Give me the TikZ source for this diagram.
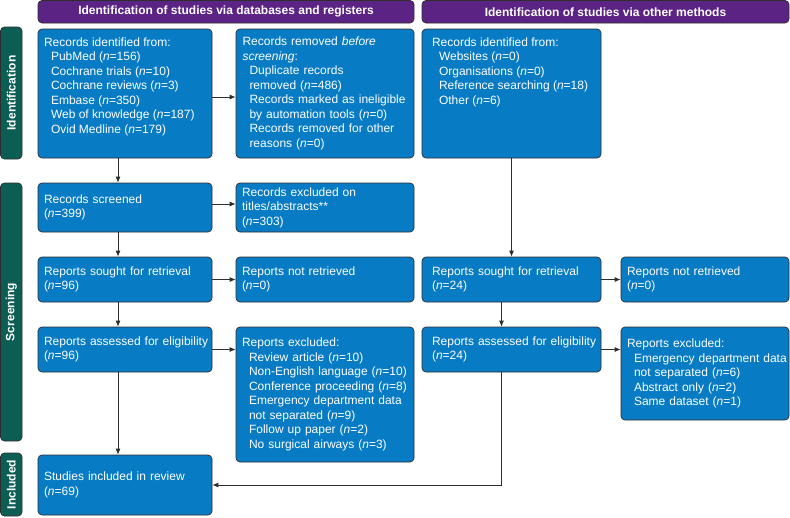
\documentclass[tikz,border=0pt]{standalone}
\usepackage{fontspec}
\setmainfont{Liberation Sans}
\usetikzlibrary{arrows.meta}
\definecolor{pblue}{HTML}{077BC4}
\definecolor{ppurple}{HTML}{5B2383}
\definecolor{pteal}{HTML}{0C5E55}
\definecolor{pline}{HTML}{2E2E2E}
\newcommand{\ind}{\hspace*{7pt}}
\newcommand{\nn}{\textit{n}}
\tikzset{
  boxbase/.style={draw=pline, line width=0.7pt, fill=pblue, rounded corners=4pt,
    text=white, inner ysep=0pt, font=\fontsize{12}{14.5}\selectfont},
  box/.style={boxbase, align=left, inner xsep=6pt},
  hdr/.style={draw=pline, line width=0.7pt, fill=ppurple, rounded corners=4pt,
    text=white, inner sep=0pt, font=\fontsize{12}{14.5}\selectfont\bfseries},
  bar/.style={draw=pline, line width=0.7pt, fill=pteal, rounded corners=4pt,
    text=white, inner sep=0pt, rotate=90, font=\fontsize{12}{14.5}\selectfont\bfseries},
  arr/.style={draw=pline, line width=0.8pt, -{Latex[length=6pt,width=5pt]}}
}
\begin{document}
\begin{tikzpicture}[x=1pt,y=-1pt]
\useasboundingbox (0,0) rectangle (790,517);
% headers
\node[hdr, minimum width=376, minimum height=22.5] (h1) at (226,11.75) {Identification of studies via databases and registers};
\node[hdr, minimum width=367, minimum height=22.5] (h2) at (605.5,11.75) {Identification of studies via other methods};
% side bars
\node[bar, minimum width=132, minimum height=21.5] (barI) at (11.25,93) {Identification};
\node[bar, minimum width=258, minimum height=21.5] (barS) at (11.25,312) {Screening};
\node[bar, minimum width=63, minimum height=21.5] (barN) at (11.25,484.5) {Included};
% left column
\node[boxbase, inner xsep=6pt, minimum width=174, minimum height=129] (A) at (125,93.5)
 {\parbox[c][129pt][t]{162pt}{\raggedright\vspace*{7.3pt}\strut Records identified from:\\
 \ind PubMed (\nn=156)\\ \ind Cochrane trials (\nn=10)\\ \ind Cochrane reviews (\nn=3)\\
 \ind Embase (\nn=350)\\ \ind Web of knowledge (\nn=187)\\ \ind Ovid Medline (\nn=179)}};
\node[box, minimum width=178, minimum height=129, text width=165] (B) at (325,93.5)
 {Records removed \textit{before}\\ \textit{screening}:\\ \ind Duplicate records\\ \ind removed (\nn=486)\\
 \ind Records marked as ineligible\\ \ind by automation tools (\nn=0)\\ \ind Records removed for other\\ \ind reasons (\nn=0)};
\node[boxbase, inner xsep=10pt, minimum width=179, minimum height=129] (C) at (511.5,93.5)
 {\parbox[c][129pt][t]{159pt}{\raggedright\vspace*{7.3pt}\strut Records identified from:\\
 \ind Websites (\nn=0)\\ \ind Organisations (\nn=0)\\ \ind Reference searching (\nn=18)\\ \ind Other (\nn=6)}};
\node[box, minimum width=174, minimum height=49, text width=162] (scr) at (125,207.5)
 {Records screened\\(\nn=399)};
\node[box, minimum width=178, minimum height=49, text width=166] (exc1) at (325,207.5)
 {Records excluded on\\titles/abstracts**\\(\nn=303)};
\node[box, minimum width=174, minimum height=45, text width=162] (sought1) at (125,279.5)
 {Reports sought for retrieval\\(\nn=96)};
\node[box, minimum width=178, minimum height=45, text width=166] (nr1) at (325,279.5)
 {Reports not retrieved\\(\nn=0)};
\node[box, minimum width=179, minimum height=45, text width=159, inner xsep=10pt] (sought2) at (511.5,279.5)
 {Reports sought for retrieval\\(\nn=24)};
\node[box, minimum width=168, minimum height=45, text width=156] (nr2) at (705,279.5)
 {Reports not retrieved\\(\nn=0)};
\node[box, minimum width=174, minimum height=45, text width=162] (ass1) at (125,349.5)
 {\mbox{Reports assessed for eligibility}\\(\nn=96)};
\node[box, minimum width=178, minimum height=135, text width=166] (ex1) at (325,394.5)
 {Reports excluded:\\ \ind Review article (\nn=10)\\ \ind \mbox{Non-English language (\nn=10)}\\
 \ind \mbox{Conference proceeding (\nn=8)}\\ \ind \mbox{Emergency department data}\\ \ind not separated (\nn=9)\\
 \ind Follow up paper (\nn=2)\\ \ind No surgical airways (\nn=3)};
\node[box, minimum width=179, minimum height=45, text width=159, inner xsep=10pt] (ass2) at (511.5,349.5)
 {\mbox{Reports assessed for eligibility}\\(\nn=24)};
\node[box, minimum width=168, minimum height=93, text width=156] (ex2) at (705,373.5)
 {Reports excluded:\\ \ind \mbox{Emergency department data}\\ \ind not separated (\nn=6)\\
 \ind Abstract only (\nn=2)\\ \ind Same dataset (\nn=1)};
\node[box, minimum width=174, minimum height=60, text width=162] (inc) at (125,485)
 {Studies included in review\\(\nn=69)};
% connectors
\draw[arr] ([xshift=-7pt]A.south) -- ([xshift=-7pt]scr.north);
\draw[arr] ([yshift=-3.5pt]A.east) -- ([yshift=-3.5pt]B.west);
\draw[arr] ([yshift=3.5pt]scr.east) -- ([yshift=3.5pt]exc1.west);
\draw[arr] ([xshift=-7pt]scr.south) -- ([xshift=-7pt]sought1.north);
\draw[arr] (sought1.east) -- (nr1.west);
\draw[arr] ([xshift=-7pt]sought1.south) -- ([xshift=-7pt]ass1.north);
\draw[arr] (ass1.east) -- (ass1.east -| ex1.west);
\draw[arr] ([xshift=-7pt]ass1.south) -- ([xshift=-7pt]inc.north);
\draw[arr] (C.south) -- (sought2.north);
\draw[arr] (sought2.east) -- (nr2.west);
\draw[arr] ([xshift=-10pt]sought2.south) -- ([xshift=-10pt]ass2.north);
\draw[arr] (ass2.east) -- (ass2.east -| ex2.west);
\draw[arr] ([xshift=-10pt]ass2.south) |- (inc.east);
\end{tikzpicture}
\end{document}
